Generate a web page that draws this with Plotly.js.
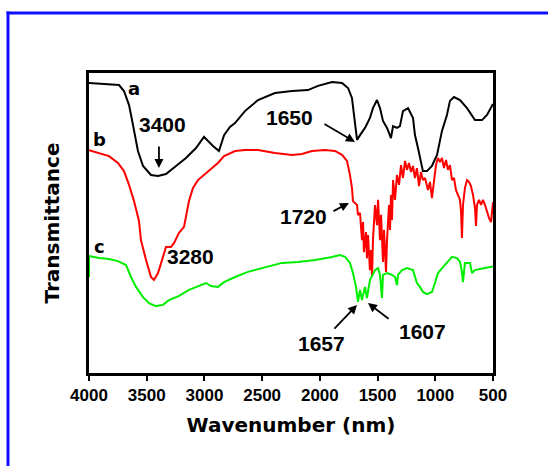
<!DOCTYPE html>
<html>
<head>
<meta charset="utf-8">
<script src="https://cdn.plot.ly/plotly-3.0.1.min.js"></script>
<style>
html,body{margin:0;padding:0;background:#fff;}
#chart{width:548px;height:466px;}
</style>
</head>
<body>
<div id="chart"></div>
<script>
// Curve a (black)
const wnA = [4000, 3740, 3697, 3653, 3619, 3576, 3532, 3463, 3402, 3333, 3246, 3160, 3073, 3004, 2926, 2874, 2830, 2779, 2735, 2649, 2536, 2389, 2241, 2103, 2016, 1895, 1808, 1756, 1722, 1696, 1678, 1652, 1609, 1566, 1540, 1505, 1479, 1453, 1418, 1384, 1366, 1332, 1306, 1280, 1236, 1193, 1176, 1150, 1133, 1107, 1072, 1029, 985, 942, 899, 873, 838, 786, 725, 682, 656, 595, 552, 500];
const tA = [96.7, 96, 94, 89.3, 82.7, 74, 69, 66, 65.7, 66.3, 69, 71.7, 75, 78.7, 75.7, 74, 79.3, 82, 83.3, 87.3, 91, 93.3, 94, 94.3, 95.7, 97, 96.7, 95, 91.7, 84, 77.7, 79.3, 81.7, 85, 88.3, 91, 88.3, 84, 81.7, 78.3, 82.3, 81.7, 82.3, 87.3, 88.3, 85, 79.3, 75, 71.7, 67.3, 67.3, 69, 72.7, 80.7, 86, 90.7, 92, 91, 88.3, 86, 84.3, 84.3, 86, 89.7];

// Curve b (red)
const wnB = [4000, 3913, 3827, 3749, 3697, 3653, 3610, 3567, 3550, 3506, 3463, 3437, 3402, 3359, 3333, 3290, 3264, 3220, 3177, 3134, 3099, 3056, 3004, 2943, 2883, 2830, 2779, 2735, 2649, 2536, 2389, 2241, 2155, 2068, 1956, 1869, 1808, 1765, 1739, 1722, 1713, 1678, 1670,
  1652, 1635, 1626, 1618, 1600, 1592, 1583, 1566, 1557, 1548, 1540, 1522, 1505, 1496, 1479, 1470, 1453, 1444, 1427, 1418, 1401, 1392, 1384, 1375, 1366, 1349, 1332, 1314, 1297, 1280, 1262, 1245, 1228, 1210, 1193, 1176, 1159, 1141, 1124, 1107, 1089, 1063, 1046, 1029, 1011, 994, 977, 959, 942, 925, 907, 890, 873, 855, 838, 821, 803, 786, 777, 769, 760, 743, 725, 708, 691, 673, 656, 647, 639, 621, 604, 587, 569, 552, 535, 517, 500];
const tB = [74.3, 73.3, 72.3, 70, 67.3, 62.7, 57.3, 50.7, 44.3, 37.7, 32, 31, 33.3, 38.7, 42, 42, 43.3, 46.7, 48.7, 57.3, 61.7, 64.3, 66, 68.3, 70, 72.3, 73.3, 74, 74.3, 74.3, 73.3, 72.7, 73, 74, 74.3, 74, 72.7, 70.7, 66, 61.7, 57.3, 56, 52.7,
  53.3, 44.3, 50.3, 40.3, 47, 38.3, 46, 34.3, 41, 32, 44.3, 56, 49.3, 57.7, 44.3, 52.7, 37, 47.7, 33.7, 44.3, 56, 47.7, 59.3, 51, 64.3, 57.7, 66, 62.7, 69.3, 65, 70.7, 67.7, 70, 67, 69, 65, 68.3, 62.3, 67, 64.3, 65, 61, 63.7, 58.3, 64.3, 69.3, 71.7, 70.3, 71.7, 68.3, 71, 67.7, 69.3, 64.3, 65, 61, 59.3, 57.7, 53.7, 45, 56, 61.7, 64.3, 63.7, 62.3, 59.3, 55, 49, 56, 57.7, 56, 57.7, 56, 53.7, 51.7, 50.3, 57];

// Curve c (green)
const wnC = [4000, 4000, 3913, 3827, 3749, 3679, 3636, 3593, 3532, 3480, 3420, 3359, 3307, 3220, 3134, 3047, 2986, 2943, 2883, 2830, 2779, 2735, 2623, 2475, 2328, 2189, 2042, 1895, 1826, 1782, 1739, 1713, 1687, 1670, 1652, 1635, 1609, 1592, 1566, 1522, 1496, 1479, 1462, 1453, 1418, 1375, 1349, 1332, 1323, 1288, 1245, 1193, 1176, 1159, 1133, 1107, 1072, 1029, 1003, 977, 933, 890, 855, 812, 786, 769, 760, 743, 699, 682, 656, 613, 552, 500];
const tC = [32, 39, 38.3, 38, 37.3, 36, 32, 28.7, 25.3, 23.3, 22.3, 22.7, 24.3, 25.7, 27.7, 29, 30, 29, 28.7, 30.3, 31.3, 32, 33.7, 35.3, 36.7, 37, 37.7, 38.7, 39.3, 38.7, 36.7, 33.3, 28.7, 23.7, 27.7, 24.3, 28.7, 25, 31, 34.3, 35, 32.7, 25, 32.7, 33.3, 32.7, 32, 29.3, 32.7, 34.3, 35, 34.3, 31.7, 30, 28.7, 27, 26.3, 27, 30, 33.3, 35.3, 37, 38.7, 38.3, 37, 33.7, 30.3, 36.7, 36.7, 33.3, 34.3, 34.7, 35, 35.5];

const tickVals = [4000, 3500, 3000, 2500, 2000, 1500, 1000, 500];
const tickText = ['4000', '3500', '3000', '2500', '2000', '1500', '1000', '500'];

const labelFont = {family: 'Liberation Sans, Arial, sans-serif', size: 21, color: '#000'};
const letterFont = {family: 'DejaVu Sans, sans-serif', size: 18, color: '#000'};

function txt(x, y, t, f) {
  return {x: x, y: y, xref: 'x', yref: 'y', text: '<b>' + t + '</b>', showarrow: false, font: f || labelFont, xanchor: 'center', yanchor: 'middle'};
}
function arr(x0, y0, x1, y1) {
  return {x: x1, y: y1, ax: x0, ay: y0, xref: 'x', yref: 'y', axref: 'x', ayref: 'y', text: '', showarrow: true,
    arrowhead: 2, arrowsize: 1, arrowwidth: 1.8, arrowcolor: '#000', standoff: 0, startstandoff: 0};
}

const traces = [
  {x: wnA, y: tA, mode: 'lines', line: {color: '#000000', width: 2}, name: 'a'},
  {x: wnB, y: tB, mode: 'lines', line: {color: '#ff0000', width: 2}, name: 'b'},
  {x: wnC, y: tC, mode: 'lines', line: {color: '#00ee00', width: 2}, name: 'c'}
];

const layout = {
  width: 548, height: 466,
  margin: {l: 89, r: 55, t: 73, b: 93, pad: 0},
  paper_bgcolor: '#ffffff', plot_bgcolor: '#ffffff',
  showlegend: false,
  xaxis: {
    range: [4000, 500], tickvals: tickVals, ticktext: tickText,
    ticks: 'outside', ticklen: 5, tickwidth: 2, tickcolor: '#000',
    showline: true, linewidth: 3, linecolor: '#000', mirror: true,
    showgrid: false, zeroline: false,
    tickfont: {family: 'Liberation Sans, Arial, sans-serif', size: 17, color: '#000', weight: 'bold'},
    title: {text: '<b>Wavenumber (nm)</b>', font: {family: 'DejaVu Sans, sans-serif', size: 20, color: '#000'}, standoff: 14}
  },
  yaxis: {
    range: [0, 100], showticklabels: false, ticks: '',
    showline: true, linewidth: 3, linecolor: '#000', mirror: true,
    showgrid: false, zeroline: false,
    title: {text: '<b>Transmittance</b>', font: {family: 'DejaVu Sans, sans-serif', size: 20, color: '#000'}, standoff: 22}
  },
  annotations: [
    txt(3610, 94.7, 'a', letterFont),
    txt(3905, 77.7, 'b', letterFont),
    txt(3913, 42.3, 'c', letterFont),
    txt(3359, 82.7, '3400'),
    arr(3394, 76, 3394, 68.3),
    txt(2259, 85.3, '1650'),
    arr(1973, 83.3, 1696, 77),
    txt(2146, 52.3, '1720'),
    arr(1895, 53.7, 1748, 56.7),
    txt(3125, 38.7, '3280'),
    txt(1982, 9.7, '1657'),
    arr(1886, 14.3, 1678, 22.7),
    txt(1115, 13.7, '1607'),
    arr(1392, 17.7, 1583, 23.3)
  ],
  shapes: [
    {type: 'line', xref: 'paper', yref: 'paper', x0: -0.2005, x1: -0.2005, y0: -0.35, y1: 1.205, line: {color: '#1010ff', width: 3}},
    {type: 'line', xref: 'paper', yref: 'paper', x0: -0.2042, x1: 1.2, y0: 1.2, y1: 1.2, line: {color: '#1010ff', width: 3}}
  ]
};

Plotly.newPlot('chart', traces, layout, {staticPlot: true, displayModeBar: false});
</script>
</body>
</html>
